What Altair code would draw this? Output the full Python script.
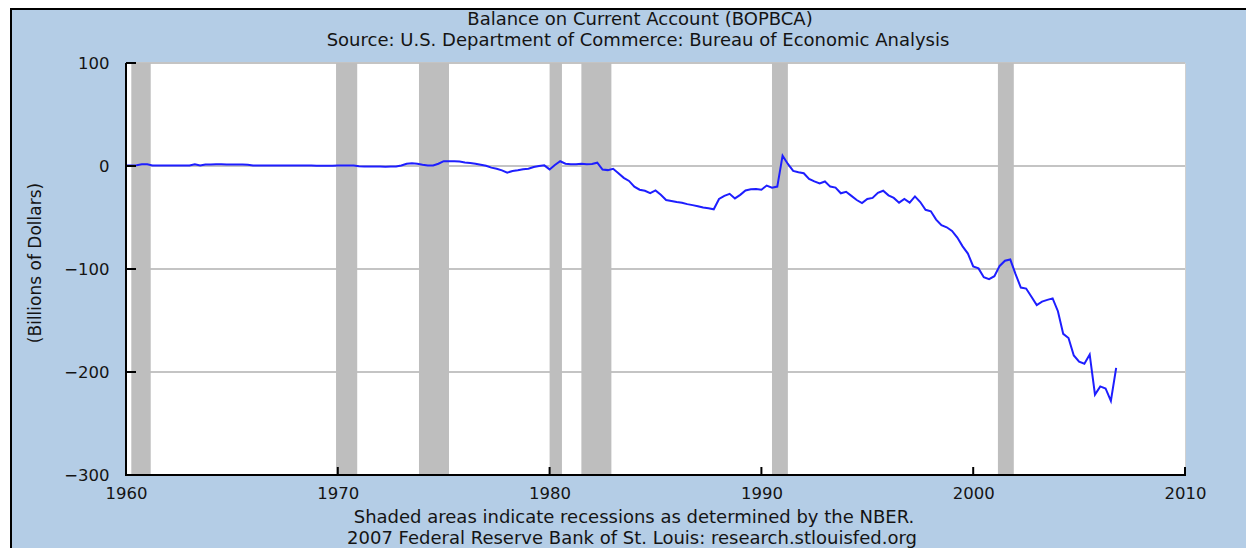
import altair as alt
import pandas as pd

# U.S. Balance on Current Account (BOPBCA), quarterly, billions of dollars, 1960Q1 .. 2006Q4
first_year = 1960
values = [
    0.5, 0.5, 0.8, 1.6, 1.6, 0.6, 0.5, 0.5, 0.4, 0.5,
    0.6, 0.5, 0.5, 1.6, 0.4, 1.4, 1.5, 1.6, 1.6, 1.5,
    1.4, 1.4, 1.4, 1.3, 0.6, 0.5, 0.6, 0.5, 0.6, 0.5,
    0.5, 0.6, 0.5, 0.5, 0.4, 0.4, 0.3, 0.3, 0.3, 0.2,
    0.4, 0.5, 0.6, 0.5, -0.3, -0.5, -0.5, -0.6, -0.6, -0.7,
    -0.6, -0.5, 0.5, 2.2, 2.7, 2.2, 1.3, 0.6, 0.6, 2.2,
    4.7, 4.7, 4.6, 4.4, 3.5, 2.9, 2.2, 1.3, 0.3, -1.6,
    -2.6, -4.2, -6.4, -4.8, -4.2, -3.2, -2.6, -1.0, -0.1, 0.6,
    -3.3, 1.0, 4.6, 2.2, 1.6, 1.6, 2.2, 1.6, 1.9, 3.2,
    -3.5, -4.0, -2.7, -7.0, -11.5, -14.5, -20.0, -23.0, -24.0, -26.3,
    -23.7, -28.0, -33.0, -34.0, -35.0, -35.7, -37.0, -38.0, -39.0, -40.3,
    -41.0, -42.0, -32.0, -29.0, -27.0, -31.5, -28.0, -23.7, -22.5, -22.3,
    -23.0, -19.0, -21.0, -20.0, 10.0, 2.0, -4.8, -6.0, -7.0, -12.5,
    -15.0, -17.0, -15.0, -20.0, -21.0, -26.5, -25.0, -29.0, -33.0, -36.0,
    -32.0, -31.0, -26.0, -24.0, -28.5, -31.0, -35.6, -32.0, -35.5, -29.5,
    -35.0, -42.5, -44.0, -52.0, -57.5, -59.5, -63.0, -69.5, -78.0, -85.0,
    -97.5, -99.4, -108.0, -109.8, -107.0, -97.0, -92.0, -90.7, -105.0, -118.0,
    -119.0, -127.0, -135.0, -131.7, -130.0, -128.5, -141.0, -163.0, -167.0, -184.0,
    -190.0, -192.0, -183.0, -222.0, -214.0, -216.0, -228.0, -196.0,
]

# NBER recessions (decimal years)
rec_start = [1960.25, 1969.917, 1973.833, 1980.0, 1981.5, 1990.5, 2001.167]
rec_end = [1961.167, 1970.917, 1975.25, 1980.583, 1982.917, 1991.25, 2001.917]

x_ticks = [1960, 1970, 1980, 1990, 2000, 2010]
y_ticks = [100, 0, -100, -200, -300]
grid_vals = [100, 0, -100, -200]

title_text = "Balance on Current Account (BOPBCA)"
subtitle_text = "Source: U.S. Department of Commerce: Bureau of Economic Analysis"
footer1 = "Shaded areas indicate recessions as determined by the NBER."
footer2 = "2007 Federal Reserve Bank of St. Louis: research.stlouisfed.org"
y_title = "(Billions of Dollars)"

W, H = 1059, 412
FONT = "DejaVu Sans"
TXT = "#141414"

series = pd.DataFrame({
    "year": [first_year + i / 4 for i in range(len(values))],
    "value": values,
})
rec = pd.DataFrame({"start": rec_start, "end": rec_end})
xt = pd.DataFrame({"xt": x_ticks})
yt = pd.DataFrame({"yt": y_ticks})
gr = pd.DataFrame({"gy": grid_vals})
one = pd.DataFrame({"k": [0]})

xscale = alt.Scale(domain=[1960, 2010], nice=False, zero=False)
yscale = alt.Scale(domain=[-300, 100], nice=False, zero=False)

xaxis = alt.Axis(values=x_ticks, format="d", grid=False, domain=False, ticks=False,
                 tickSize=0, labelPadding=10, labelFont=FONT, labelFontSize=16.5,
                 labelColor=TXT, title=None, labelFlush=False)
yaxis = alt.Axis(values=y_ticks, grid=False, domain=False, ticks=False, tickSize=0,
                 labelPadding=17, labelFont=FONT, labelFontSize=16.5, labelColor=TXT,
                 title=None)

grid = alt.Chart(gr).mark_rule(color="#c4c4c4", strokeWidth=1.8).encode(
    y=alt.Y("gy:Q", scale=yscale, axis=yaxis),
    x=alt.value(0), x2=alt.value(W),
)

bars = alt.Chart(rec).mark_rect(color="#bebebe").encode(
    x=alt.X("start:Q", scale=xscale, axis=xaxis),
    x2="end:Q",
    y=alt.value(0), y2=alt.value(H),
)

line = alt.Chart(series).mark_line(color="#1e1eff", strokeWidth=2).encode(
    x=alt.X("year:Q", scale=xscale, axis=xaxis),
    y=alt.Y("value:Q", scale=yscale, axis=yaxis),
)

yticks = alt.Chart(yt).mark_rule(color="black", strokeWidth=2).encode(
    y=alt.Y("yt:Q", scale=yscale, axis=yaxis),
    x=alt.value(0), x2=alt.value(10),
)
xticks = alt.Chart(xt).mark_rule(color="black", strokeWidth=2).encode(
    x=alt.X("xt:Q", scale=xscale, axis=xaxis),
    y=alt.value(H), y2=alt.value(H - 8),
)

ydomain = alt.Chart(one).mark_rule(color="black", strokeWidth=2).encode(
    x=alt.value(0), y=alt.value(0), y2=alt.value(H + 1),
)
xdomain = alt.Chart(one).mark_rule(color="black", strokeWidth=2).encode(
    x=alt.value(-1), x2=alt.value(W + 1), y=alt.value(H),
)

# panel decorations (outside plot area)
white_strip = alt.Chart(one).mark_rect(color="white").encode(
    x=alt.value(-118), x2=alt.value(-116), y=alt.value(-56), y2=alt.value(486),
)
left_border = alt.Chart(one).mark_rule(color="black", strokeWidth=2).encode(
    x=alt.value(-115), y=alt.value(-56), y2=alt.value(486),
)
top_border = alt.Chart(one).mark_rule(color="black", strokeWidth=2).encode(
    x=alt.value(-116), x2=alt.value(1130), y=alt.value(-54),
)


def label(text, x, y, size=18, angle=0):
    return alt.Chart(pd.DataFrame({"t": [text]})).mark_text(
        font=FONT, fontSize=size, color=TXT, align="center", baseline="middle",
        angle=angle,
    ).encode(text="t:N", x=alt.value(x), y=alt.value(y))


texts = [
    label(title_text, 514, -43),
    label(subtitle_text, 512, -22),
    label(footer1, 508, 454.5),
    label(footer2, 506, 475.5),
    label(y_title, -90, 200, size=17, angle=270),
]

chart = alt.layer(
    grid, bars, line, yticks, xticks, ydomain, xdomain,
    white_strip, left_border, top_border, *texts,
).properties(
    width=W, height=H,
    background="#b4cde6",
    padding={"left": 118, "top": 55, "right": 61, "bottom": 73},
    autosize=alt.AutoSizeParams(type="none"),
).configure_view(
    fill="white", stroke="#d0d0d0", strokeWidth=1,
)

chart.save("out.html", embed_options={"renderer": "svg", "actions": False})
